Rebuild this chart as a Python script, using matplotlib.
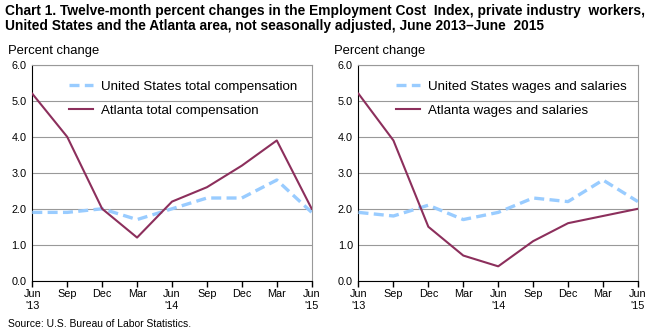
import matplotlib.pyplot as plt

plt.rcParams['font.family'] = ['Liberation Sans', 'DejaVu Sans']

# ----- DATA -----
quarters = ["Jun\n'13", "Sep", "Dec", "Mar", "Jun\n'14", "Sep", "Dec", "Mar", "Jun\n'15"]
us_total = [1.9, 1.9, 2.0, 1.7, 2.0, 2.3, 2.3, 2.8, 1.9]
atl_total = [5.2, 4.0, 2.0, 1.2, 2.2, 2.6, 3.2, 3.9, 2.0]
us_wages = [1.9, 1.8, 2.1, 1.7, 1.9, 2.3, 2.2, 2.8, 2.2]
atl_wages = [5.2, 3.9, 1.5, 0.7, 0.4, 1.1, 1.6, 1.8, 2.0]
y_ticks = [0.0, 1.0, 2.0, 3.0, 4.0, 5.0, 6.0]

US_COLOR = '#99ccff'
ATL_COLOR = '#8c2f5c'

fig = plt.figure(figsize=(6.59, 3.33), dpi=100)

fig.text(0.008, 0.988,
         "Chart 1. Twelve-month percent changes in the Employment Cost  Index, private industry  workers,\n"
         "United States and the Atlanta area, not seasonally adjusted, June 2013\u2013June  2015",
         ha='left', va='top', fontsize=9.9, fontweight='bold', linespacing=1.05)
fig.text(0.012, 0.012, "Source: U.S. Bureau of Labor Statistics.", ha='left', va='bottom', fontsize=7.5)


def draw_panel(rect, us, atl, us_label, atl_label):
    ax = fig.add_axes(rect)
    x = range(len(quarters))
    ax.plot(x, us, color=US_COLOR, lw=2.4, ls=(0, (3, 1.6)), label=us_label, zorder=3)
    ax.plot(x, atl, color=ATL_COLOR, lw=1.5, label=atl_label, zorder=4)
    ax.set_xlim(0, len(quarters) - 1)
    ax.set_ylim(0, 6)
    ax.set_yticks(y_ticks)
    ax.set_yticklabels([f"{v:.1f}" for v in y_ticks], fontsize=7.8)
    ax.set_xticks(list(x))
    ax.set_xticklabels(quarters, fontsize=7.8, linespacing=1.2)
    ax.tick_params(axis='y', length=0, pad=4)
    ax.tick_params(axis='x', length=4, width=1, direction='out', pad=2)
    ax.grid(axis='y', color='#999999', lw=0.8)
    ax.set_axisbelow(True)
    for side in ('top', 'right'):
        ax.spines[side].set_color('#999999')
        ax.spines[side].set_linewidth(0.8)
    ax.spines['left'].set_color('black')
    ax.spines['bottom'].set_color('black')
    ax.spines['bottom'].set_zorder(5)
    ax.text(-0.086, 1.035, "Percent change", transform=ax.transAxes, ha='left', va='bottom',
            fontsize=9.4)
    ax.legend(loc='upper left', bbox_to_anchor=(0.09, 0.985), frameon=False,
              fontsize=9.6, handlelength=1.8, handletextpad=0.6, labelspacing=0.9)
    return ax


draw_panel([0.049, 0.157, 0.424, 0.648], us_total, atl_total,
           "United States total compensation", "Atlanta total compensation")
draw_panel([0.544, 0.157, 0.424, 0.648], us_wages, atl_wages,
           "United States wages and salaries", "Atlanta wages and salaries")

fig.savefig("out.png", dpi=100)
